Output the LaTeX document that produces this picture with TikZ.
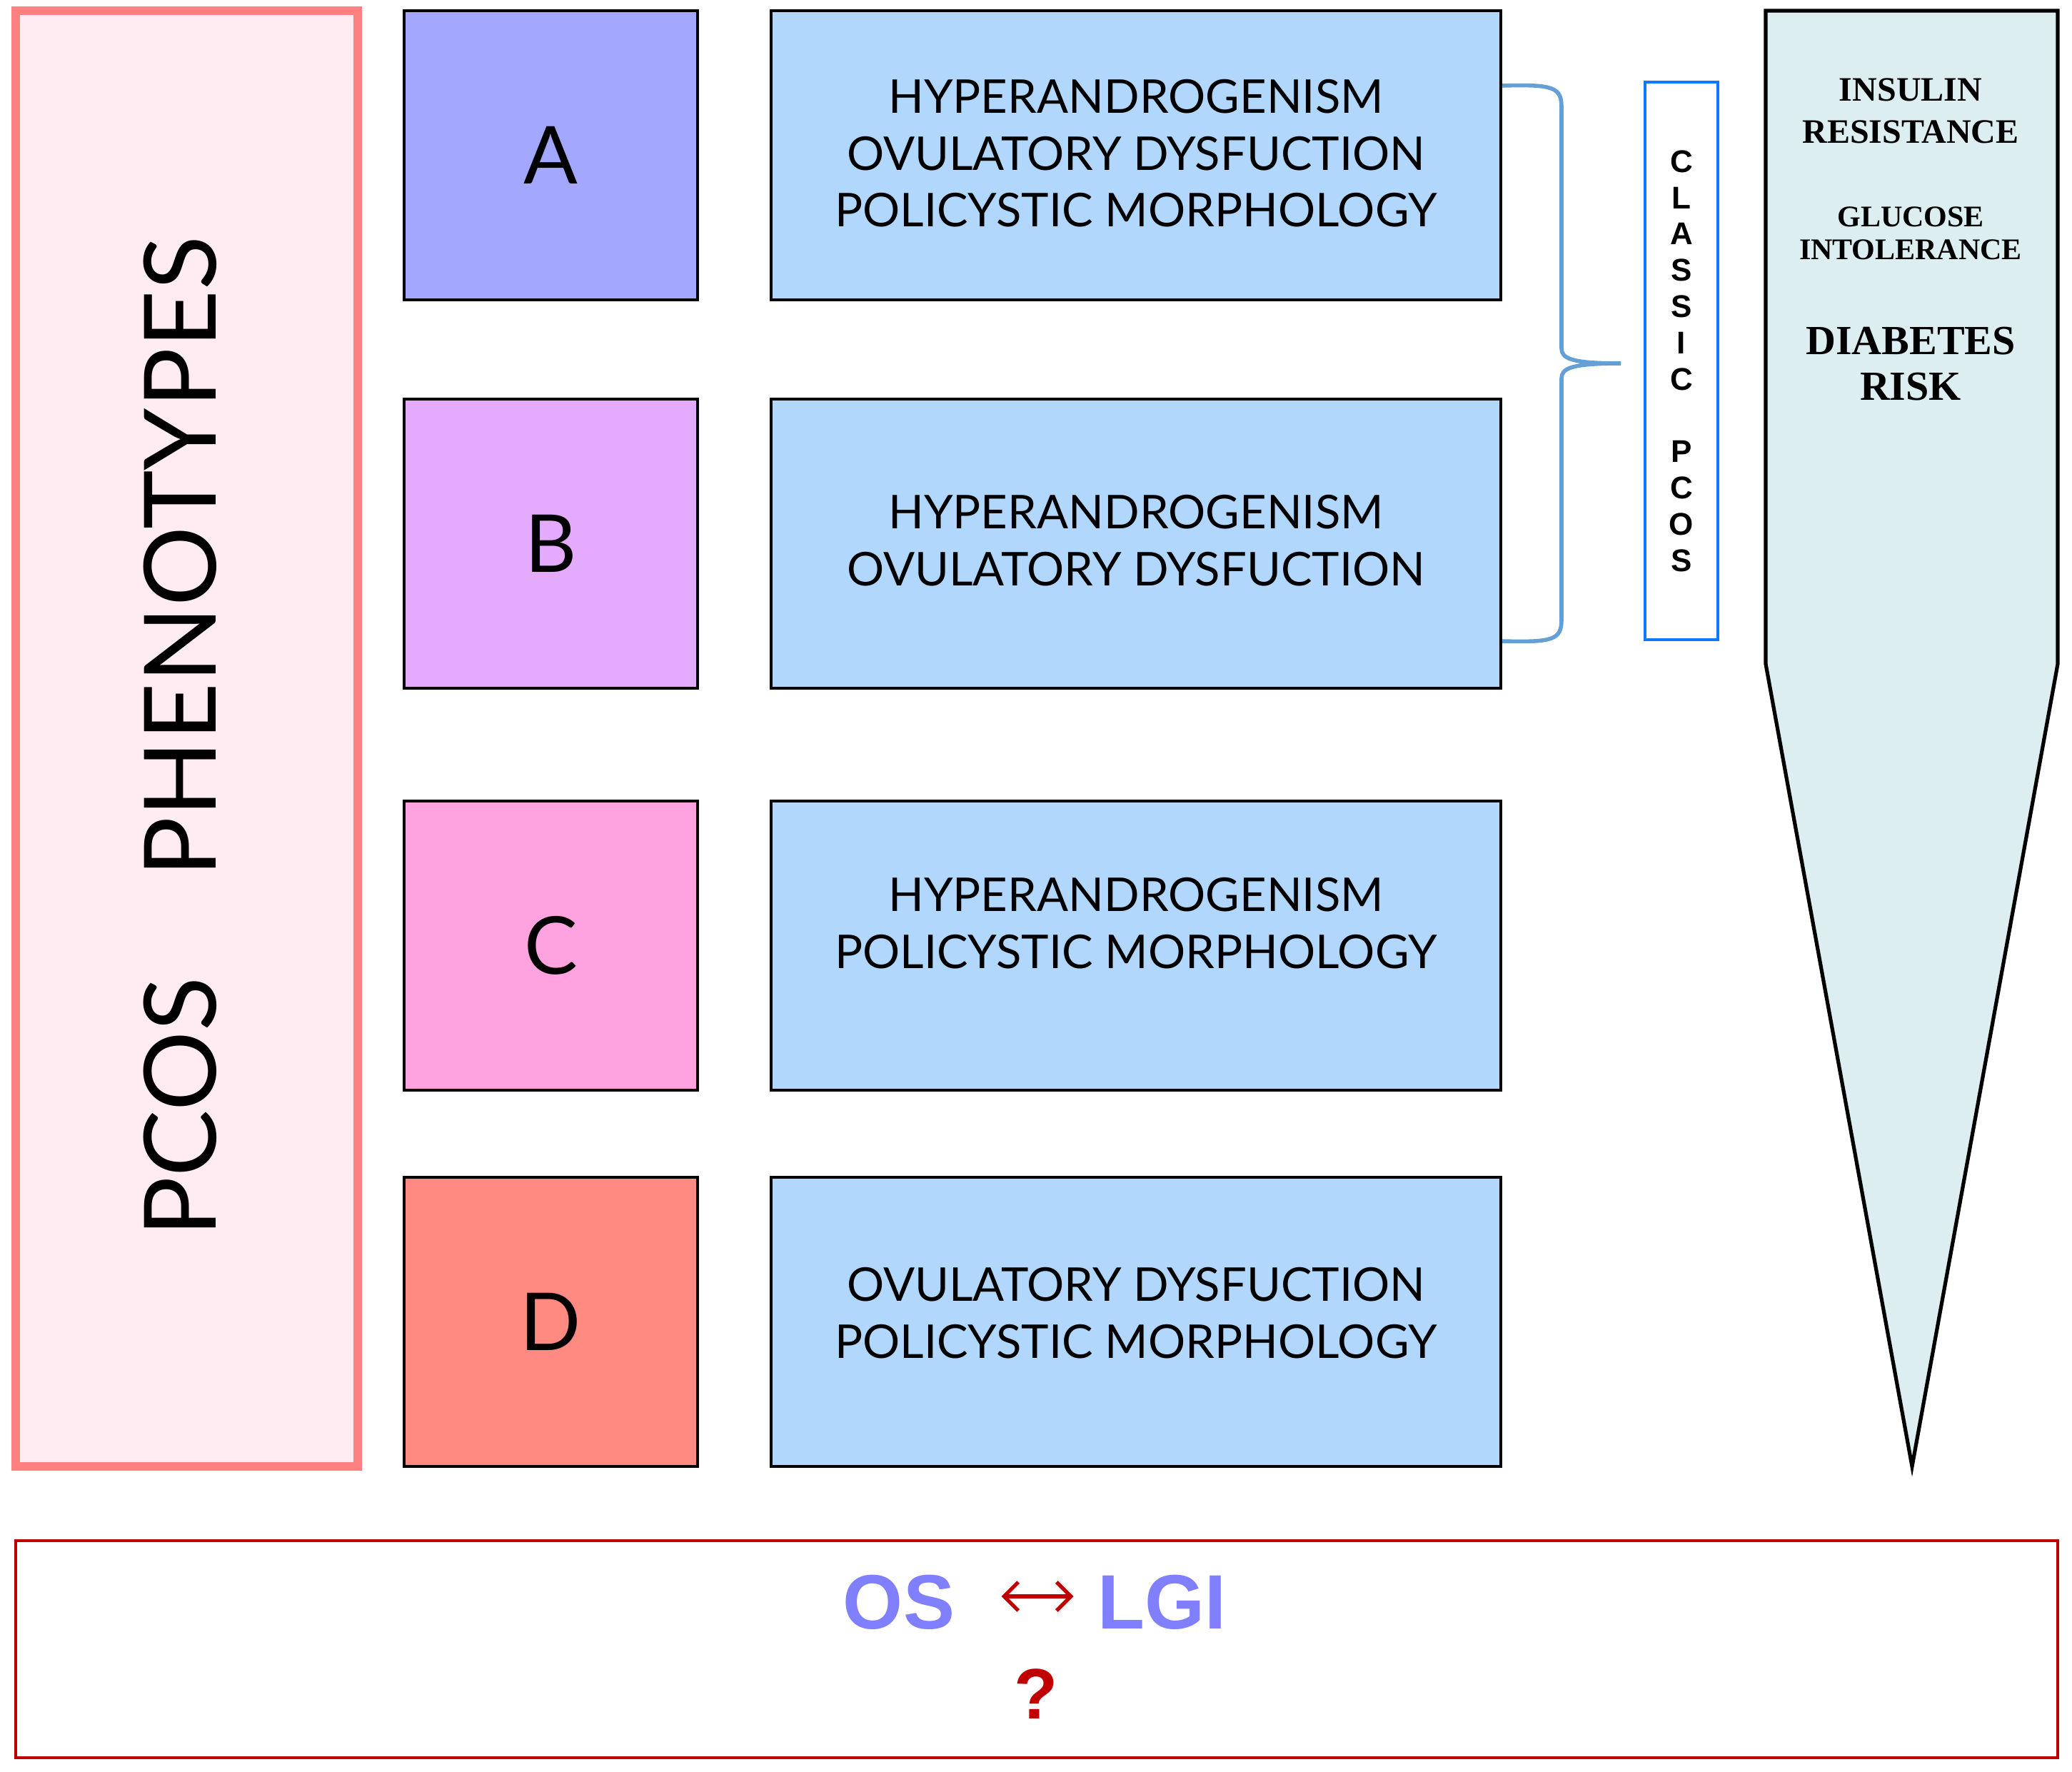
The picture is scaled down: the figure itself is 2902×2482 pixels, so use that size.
\documentclass[tikz,border=0pt]{standalone}
\usepackage{fontspec}
\newfontfamily\latofont{Lato}
\newfontfamily\arialfont{Liberation Sans}
\newfontfamily\timesfont{Liberation Serif}
\usetikzlibrary{arrows.meta}

\definecolor{panelpink}{RGB}{255,236,242}
\definecolor{panelborder}{RGB}{255,128,128}
\definecolor{phenA}{RGB}{163,168,254}
\definecolor{phenB}{RGB}{228,171,253}
\definecolor{phenC}{RGB}{255,163,224}
\definecolor{phenD}{RGB}{255,138,130}
\definecolor{critblue}{RGB}{178,215,253}
\definecolor{classicblue}{RGB}{10,123,255}
\definecolor{bracecol}{RGB}{100,160,215}
\definecolor{funnelfill}{RGB}{220,238,240}
\definecolor{darkred}{RGB}{192,0,0}
\definecolor{oslgi}{RGB}{128,128,255}

\tikzset{every picture/.style={line width=0.75pt}}
\tikzset{
  phenbox/.style={draw=black, line width=1.1pt, minimum width=102.75pt, minimum height=101.25pt, inner sep=0pt, font=\latofont\fontsize{28}{34}\selectfont},
  critbox/.style={draw=black, line width=1.1pt, fill=critblue, minimum width=255.5pt, minimum height=101.25pt, inner sep=0pt},
  crittext/.style={align=center, inner sep=0pt, font=\latofont\fontsize{16.3}{19.9}\selectfont},
  risktext/.style={align=center, inner sep=0pt},
  bigletter/.style={inner sep=0pt, font=\arialfont\bfseries\fontsize{27}{30}\selectfont},
}

\begin{document}
\begin{tikzpicture}[x=0.25pt,y=0.25pt,yscale=-1,xscale=1]
\useasboundingbox (0,0) rectangle (2902,2482);
%Shape: Rectangle (left panel)
\node[draw=panelborder, fill=panelpink, line width=3pt, minimum width=119.75pt, minimum height=509.75pt, inner sep=0pt] (panel) at (261.5,1034.5) {};
% Text Node
\node[rotate=90, inner sep=0pt, font=\latofont\fontsize{35}{40}\selectfont] (phenlabel) at (252,1032) {PCOS\hspace*{35pt}PHENOTYPES};

%Shape: Rectangle (phenotypes)
\node[phenbox, fill=phenA] (phenA) at (771.5,217.5) {A};
\node[phenbox, fill=phenB] (phenB) at (771.5,761.5) {B};
\node[phenbox, fill=phenC] (phenC) at (771.5,1324.5) {C};
\node[phenbox, fill=phenD] (phenD) at (771.5,1851.5) {D};

%Shape: Rectangle (criteria)
\node[critbox] (critA) at (1591,217.5) {};
\node[critbox] (critB) at (1591,761.5) {};
\node[critbox] (critC) at (1591,1324.5) {};
\node[critbox] (critD) at (1591,1851.5) {};
% Text Node
\node[crittext] (txtA) at (1591,215) {HYPERANDROGENISM\\OVULATORY DYSFUCTION\\POLICYSTIC MORPHOLOGY};
\node[crittext] (txtB) at (1591,757) {HYPERANDROGENISM\\OVULATORY DYSFUCTION};
\node[crittext] (txtC) at (1591,1293) {HYPERANDROGENISM\\POLICYSTIC MORPHOLOGY};
\node[crittext] (txtD) at (1591,1839) {OVULATORY DYSFUCTION\\POLICYSTIC MORPHOLOGY};

%Shape: Brace
\coordinate (brtop) at (critA.east |- 0,120);
\coordinate (brbot) at (critB.east |- 0,898);
\coordinate (brtip) at (2270,509);
\draw[bracecol, line width=1.4pt] (brtop) .. controls (2175,118) and (2187,122) .. (2187,150) -- (2187,488) .. controls (2187,502) and (2200,509) .. (brtip);
\draw[bracecol, line width=1.4pt] (brbot) .. controls (2175,900) and (2187,896) .. (2187,868) -- (2187,530) .. controls (2187,516) and (2200,509) .. (brtip);

%Shape: Rectangle (classic)
\node[draw=classicblue, line width=1.1pt, minimum width=25.5pt, minimum height=195.25pt, inner sep=0pt, align=center, font=\arialfont\bfseries\fontsize{11}{12.7}\selectfont] (classic) at (2355,505.5) {C\\L\\A\\S\\S\\I\\C\\[12.7pt]P\\C\\O\\S};

%Shape: Funnel
\draw[fill=funnelfill, line width=1.3pt] (2473,15) -- (2882,15) -- (2882,930) -- (2678,2054) -- (2473,930) -- cycle;
% Text Node
\node[risktext, font=\timesfont\bfseries\fontsize{12}{14.75}\selectfont] (insulin) at (2676,155) {INSULIN\\RESISTANCE};
\node[risktext, font=\timesfont\bfseries\fontsize{10.5}{11.5}\selectfont] (glucose) at (2676,327) {GLUCOSE\\INTOLERANCE};
\node[risktext, font=\timesfont\bfseries\fontsize{14.5}{16}\selectfont] (diabetes) at (2676,510) {DIABETES\\RISK};

%Shape: Rectangle (bottom)
\node[draw=darkred, line width=1pt, minimum width=715pt, minimum height=76pt, inner sep=0pt] (bottombox) at (1452,2310) {};
% Text Node
\node[bigletter, text=oslgi] (os) at (1259,2244) {OS};
\node[bigletter, text=oslgi] (lgi) at (1627,2244) {LGI};
\draw[darkred, line width=1.3pt, {Straight Barb[length=5pt,width=10pt]}-{Straight Barb[length=5pt,width=10pt]}, shorten <=16pt, shorten >=8pt] ([yshift=-2pt]os.east) -- ([yshift=-2pt]lgi.west);
\node[text=darkred, inner sep=0pt, font=\arialfont\bfseries\fontsize{25}{28}\selectfont] (qmark) at (1451,2373) {?};
\end{tikzpicture}
\end{document}
